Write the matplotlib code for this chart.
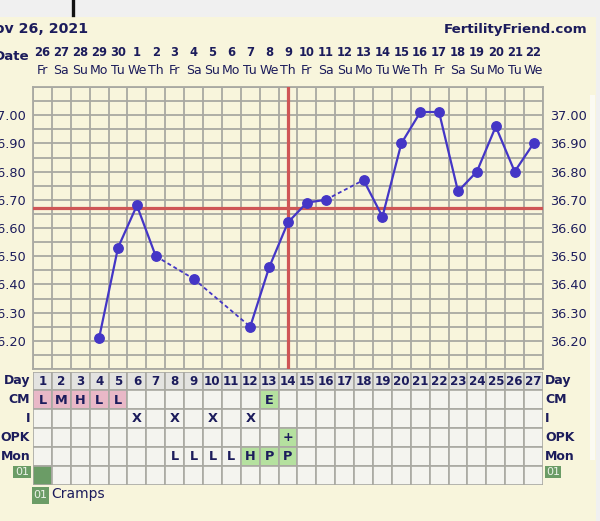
import matplotlib
matplotlib.use('Agg')
import matplotlib.pyplot as plt
import matplotlib.transforms as mtransforms
from matplotlib import font_manager as fm
from matplotlib.patches import Rectangle
import numpy as np

# ---------------- data ----------------
dates = ['26', '27', '28', '29', '30', '1', '2', '3', '4', '5', '6', '7', '8', '9',
         '10', '11', '12', '13', '14', '15', '16', '17', '18', '19', '20', '21', '22']
weekdays = ['Fr', 'Sa', 'Su', 'Mo', 'Tu', 'We', 'Th', 'Fr', 'Sa', 'Su', 'Mo', 'Tu', 'We', 'Th',
            'Fr', 'Sa', 'Su', 'Mo', 'Tu', 'We', 'Th', 'Fr', 'Sa', 'Su', 'Mo', 'Tu', 'We']
cycle_days = list(range(1, 28))
temps = [None, None, None, 36.21, 36.53, 36.68, 36.50, None, 36.42, None, None, 36.25,
         36.46, 36.62, 36.69, 36.70, None, 36.77, 36.64, 36.90, 37.01, 37.01, 36.73,
         36.80, 36.96, 36.80, 36.90]
coverline = 36.67
ovulation_day = 14
temp_ticks = ['36.20', '36.30', '36.40', '36.50', '36.60', '36.70', '36.80', '36.90', '37.00']

row_labels = ['Day', 'CM', 'I', 'OPK', 'Mon']
cm = {1: 'L', 2: 'M', 3: 'H', 4: 'L', 5: 'L', 13: 'E'}
intercourse = {6: 'X', 8: 'X', 10: 'X', 12: 'X'}
opk = {14: '+'}
mon = {8: 'L', 9: 'L', 10: 'L', 11: 'L', 12: 'H', 13: 'P', 14: 'P'}
symptom_days = [1]
symptom_code = '01'
symptom_name = 'Cramps'
title = 'Nov 26, 2021'
site = 'FertilityFriend.com'

# ---------------- style ----------------
W, H = 600, 521
CREAM = '#f8f5dc'
NAVY = '#1c1c5c'
GRID = '#a9a9a2'
LINE = '#4436c6'
RED = '#cf5656'
PINK = '#e9b8c7'
LGREEN = '#b5e19f'
DGREEN = '#6b9c66'
CELL = '#f4f4ef'
DAYROW = '#e3e3e0'

_names = {f.name for f in fm.fontManager.ttflist}
if 'Liberation Sans Narrow' in _names:
    NARROW = dict(family='Liberation Sans Narrow', size=10.8)
else:
    NARROW = dict(family='DejaVu Sans', size=8.3)

fig = plt.figure(figsize=(W / 100, H / 100), dpi=100, facecolor=CREAM)


def rect(x0, y0, x1, y1):
    return [x0 / W, 1 - y1 / H, (x1 - x0) / W, (y1 - y0) / H]


# top gray band and right strip
fig.patches.append(Rectangle((0, 1 - 17 / H), 1, 17 / H, transform=fig.transFigure,
                             facecolor='#f0f0f0', edgecolor='none', zorder=0))
fig.patches.append(Rectangle((596 / W, 0), 4 / W, 1, transform=fig.transFigure,
                             facecolor='#f0f0f0', edgecolor='none', zorder=0))
fig.patches.append(Rectangle((590 / W, 1 - 460 / H), 5 / W, 365 / H, transform=fig.transFigure,
                             facecolor='#fbfaf2', edgecolor='none', zorder=0))
fig.lines.append(plt.Line2D([73 / W, 73 / W], [1, 1 - 15 / H], transform=fig.transFigure,
                            color='#111111', lw=2.4))

# ---------------- temperature axes ----------------
ax = fig.add_axes(rect(33, 87, 543, 369))
ax.set_facecolor(CREAM)
ax.set_xlim(0.5, 27.5)
ax.set_ylim(36.10, 37.10)
ax.set_xticks(np.arange(0.5, 28, 1.0))
ax.set_xticklabels([])
yt = np.round(np.arange(36.10, 37.101, 0.05), 2)
ax.set_yticks(yt)
lab = []
for v in yt:
    s = f'{v:.2f}'
    lab.append(s if s in temp_ticks else '')
ax.set_yticklabels(lab)
ax.tick_params(axis='both', length=0, labelsize=9.3, labelcolor=NAVY, pad=5,
               labelleft=True, labelright=True)
ax.grid(True, color=GRID, lw=1.3)
ax.set_axisbelow(True)
for sp in ax.spines.values():
    sp.set_color(GRID)
    sp.set_linewidth(1.3)

ax.axhline(coverline, color=RED, lw=2.3, zorder=3)
ax.axvline(ovulation_day, color=RED, lw=2.3, zorder=3)

pts = [(d, t) for d, t in zip(cycle_days, temps) if t is not None]
for (d0, t0), (d1, t1) in zip(pts[:-1], pts[1:]):
    ls = '-' if d1 - d0 == 1 else (0, (2.2, 1.6))
    lw = 1.6 if d1 - d0 == 1 else 1.3
    ax.plot([d0, d1], [t0, t1], color=LINE, lw=lw, ls=ls, zorder=4, solid_capstyle='round')
ax.plot([p[0] for p in pts], [p[1] for p in pts], 'o', color=LINE, ms=6.8, zorder=5)

# header texts
bt = mtransforms.blended_transform_factory(ax.transData, fig.transFigure)
for d, ds, wd in zip(cycle_days, dates, weekdays):
    ax.text(d, 1 - 53 / H, ds, transform=bt, ha='center', va='center',
            fontfamily=NARROW['family'], fontsize=NARROW['size'],
            fontweight='bold', color=NAVY, clip_on=False)
    ax.text(d, 1 - 71 / H, wd, transform=bt, ha='center', va='center', fontsize=9.0,
            color=NAVY, clip_on=False)
fig.text(29 / W, 1 - 56 / H, 'Date', ha='right', va='center', fontsize=9.6,
         fontweight='bold', color=NAVY)
fig.text(88 / W, 1 - 29 / H, title, ha='right', va='center', fontsize=10.2,
         fontweight='bold', color=NAVY)
fig.text(587 / W, 1 - 29 / H, site, ha='right', va='center', fontsize=9.6,
         fontweight='bold', color=NAVY)

# ---------------- chart table ----------------
tb = fig.add_axes(rect(33, 371.5, 543, 484.5))
tb.set_xlim(0.5, 27.5)
tb.set_ylim(6, 0)
tb.axis('off')

row_data = [None, cm, intercourse, opk, mon]
for r in range(6):
    for d in cycle_days:
        fc = DAYROW if r == 0 else CELL
        if r == 1 and d in cm:
            fc = PINK if d <= 5 else LGREEN
        if r == 3 and d in opk:
            fc = LGREEN
        if r == 4 and d in mon and mon[d] in ('H', 'P'):
            fc = LGREEN
        if r == 5 and d in symptom_days:
            fc = DGREEN
        tb.add_patch(Rectangle((d - 0.5, r), 1, 1, facecolor=fc, edgecolor=GRID, lw=1.2))
        if r == 0:
            tb.text(d, r + 0.52, str(d), ha='center', va='center',
                    fontfamily=NARROW['family'], fontsize=NARROW['size'] + 0.3,
                    fontweight='bold', color=NAVY)
        elif r < 5:
            txt = row_data[r].get(d, '')
            if txt:
                tb.text(d, r + 0.52, txt, ha='center', va='center', fontsize=9.3,
                        fontweight='bold', color=NAVY)

for r, name in enumerate(row_labels):
    yy = r + 0.5
    tb.text(0.35, yy, name, ha='right', va='center', fontsize=9.0, fontweight='bold',
            color=NAVY, clip_on=False)
    tb.text(27.6, yy, name, ha='left', va='center', fontsize=9.0, fontweight='bold',
            color=NAVY, clip_on=False)


def badge(xpx, ypx, wpx, hpx, fs=8):
    fig.patches.append(Rectangle((xpx / W, 1 - (ypx + hpx) / H), wpx / W, hpx / H,
                                 transform=fig.transFigure, facecolor=DGREEN,
                                 edgecolor='none'))
    fig.text((xpx + wpx / 2) / W, 1 - (ypx + hpx / 2) / H, symptom_code, ha='center',
             va='center', fontsize=fs, color='#eef3ea')


badge(13, 466, 18, 12)
badge(545, 466, 16, 12)
badge(32, 487, 17, 17)
fig.text(51 / W, 1 - 494 / H, symptom_name, ha='left', va='center', fontsize=10,
         color=NAVY)

fig.savefig('out.png', dpi=100, facecolor=fig.get_facecolor())
